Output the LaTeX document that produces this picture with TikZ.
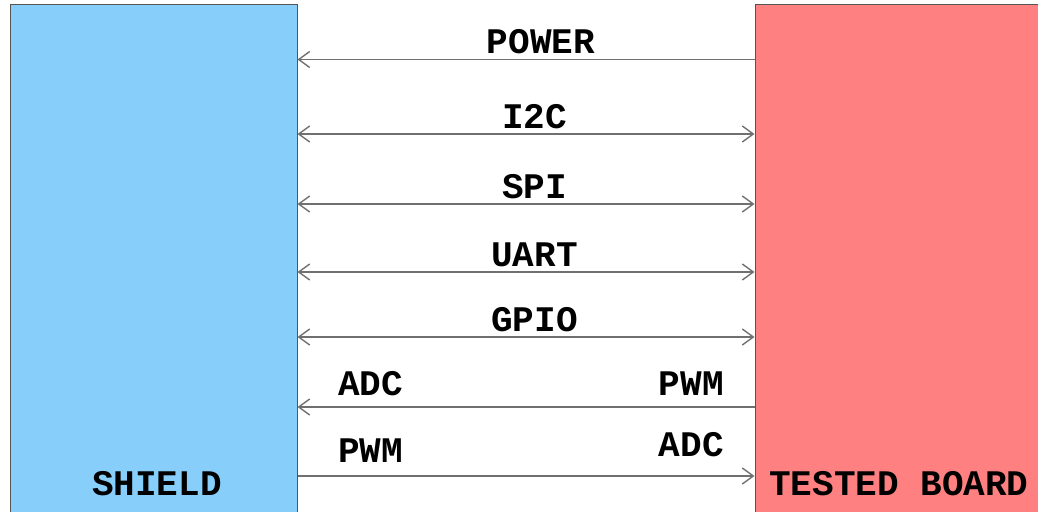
\documentclass[tikz,border=0pt]{standalone}
\usepackage{fontspec}
\newfontfamily\lblfont{Liberation Mono}
\usetikzlibrary{arrows.meta}
\definecolor{shieldblue}{HTML}{87CEFA}
\definecolor{boardred}{HTML}{FF8080}
\definecolor{edgegray}{HTML}{555555}
\definecolor{linegray}{HTML}{707070}
\tikzset{
  box/.style={draw=edgegray, line width=1pt, rectangle, inner sep=0pt},
  lbl/.style={font=\lblfont\bfseries\fontsize{36}{36}\selectfont, inner sep=0pt, text=black},
  conn/.style={draw=linegray, line width=1.4pt, arrows={Straight Barb[length=11pt,width=16pt,line width=1.4pt]-Straight Barb[length=11pt,width=16pt,line width=1.4pt]}},
  connl/.style={draw=linegray, line width=1.4pt, arrows={Straight Barb[length=11pt,width=16pt,line width=1.4pt]-}},
  connr/.style={draw=linegray, line width=1.4pt, arrows={-Straight Barb[length=11pt,width=16pt,line width=1.4pt]}}
}
\begin{document}
\begin{tikzpicture}[x=1pt,y=-1pt]
\useasboundingbox (0,0) rectangle (1038,511);
\clip (0,0) rectangle (1038,511);
\node[box, fill=shieldblue, minimum width=287pt, minimum height=525pt] (shield) at (153.5,267.5) {};
\node[box, fill=boardred, minimum width=290pt, minimum height=525pt] (board) at (900,267.5) {};
\node[lbl, anchor=base] (shieldlbl) at (157,495) {SHIELD};
\node[lbl, anchor=base] (boardlbl) at (899,495) {TESTED BOARD};
% connectors
\draw[connl] (shield.east |- 0,59.5) -- (board.west |- 0,59.5);
\draw[conn] (shield.east |- 0,134) -- (board.west |- 0,134);
\draw[conn] (shield.east |- 0,204) -- (board.west |- 0,204);
\draw[conn] (shield.east |- 0,272) -- (board.west |- 0,272);
\draw[conn] (shield.east |- 0,337) -- (board.west |- 0,337);
\draw[connl] (shield.east |- 0,407) -- (board.west |- 0,407);
\draw[connr] (shield.east |- 0,476) -- (board.west |- 0,476);
% labels
\node[lbl, anchor=base] (power) at (541,53) {POWER};
\node[lbl, anchor=base] (i2c) at (534.5,128) {I2C};
\node[lbl, anchor=base] (spi) at (534.5,198) {SPI};
\node[lbl, anchor=base] (uart) at (534.5,266) {UART};
\node[lbl, anchor=base] (gpio) at (534.5,331) {GPIO};
\node[lbl, anchor=base west] (adcl) at (338,395) {ADC};
\node[lbl, anchor=base east] (pwmr) at (724,395) {PWM};
\node[lbl, anchor=base west] (pwml) at (338,462) {PWM};
\node[lbl, anchor=base east] (adcr) at (724,456) {ADC};
\end{tikzpicture}
\end{document}
